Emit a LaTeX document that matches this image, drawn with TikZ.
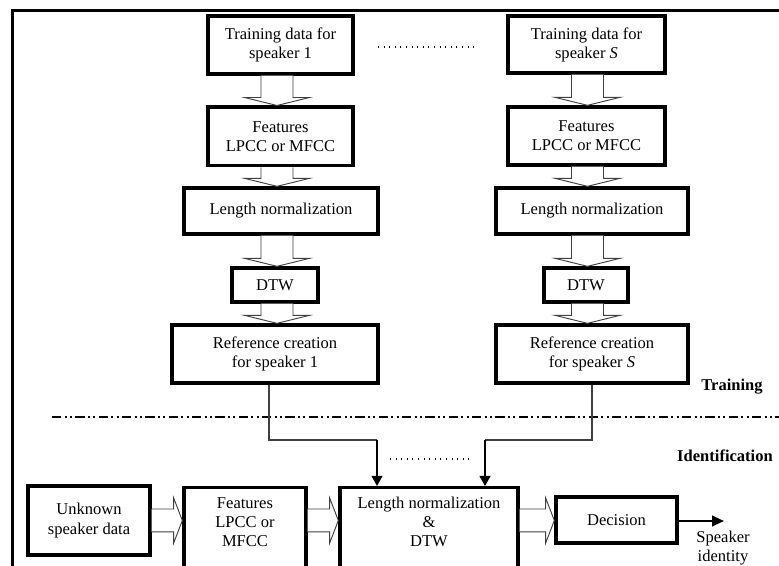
\documentclass[tikz,border=0pt]{standalone}
\usepackage{fontspec}
\setmainfont{Liberation Serif}
\usetikzlibrary{arrows.meta,calc}
\newcommand\hdown[3]{\draw[hollow] let \p1=(#1.south), \p2=(#2.north) in
 ({#3*0.75pt-12pt},\y1) -- ({#3*0.75pt-12pt},{\y2+6pt}) -- ({#3*0.75pt-24.4pt},{\y2+6pt}) -- ({#3*0.75pt},\y2)
 -- ({#3*0.75pt+24.4pt},{\y2+6pt}) -- ({#3*0.75pt+12pt},{\y2+6pt}) -- ({#3*0.75pt+12pt},\y1);}
\newcommand\hright[3]{\draw[hollow] let \p1=(#1.east), \p2=(#2.west) in
 (\x1,{-#3*0.75pt+8.6pt}) -- ({\x2-6.5pt},{-#3*0.75pt+8.6pt}) -- ({\x2-6.5pt},{-#3*0.75pt+16.9pt}) -- (\x2,{-#3*0.75pt})
 -- ({\x2-6.5pt},{-#3*0.75pt-16.9pt}) -- ({\x2-6.5pt},{-#3*0.75pt-8.6pt}) -- (\x1,{-#3*0.75pt-8.6pt});}
\begin{document}
\begin{tikzpicture}[x=0.75pt,y=-0.75pt,
  font=\fontsize{12.4}{14.3}\selectfont,
  box/.style={draw, line width=2.5pt, rectangle, align=center, inner sep=2pt},
  txt/.style={align=center, inner sep=1pt},
  hollow/.style={draw=black!75, line width=0.7pt, fill=white, line join=miter},
  frame/.style={line width=2.4pt},
  fbline/.style={draw=black!75, line width=0.9pt},
  blk/.style={line width=1.5pt, -{Triangle[length=7.5pt,width=8pt]}},
  dotline/.style={line width=0.9pt, dash pattern=on 0.8pt off 3.4pt},
  sep/.style={line width=1.5pt, dash pattern=on 7pt off 2.5pt on 1.5pt off 2.5pt on 1.5pt off 2.5pt}]
\useasboundingbox (0,0) rectangle (779,566);
% outer frame
\coordinate (fr1) at (12.5,600);
\coordinate (fr2) at (800,10.5);
\draw[frame] (fr1) |- (fr2);
% training column 1
\node[box, minimum width=108.75pt, minimum height=43.5pt] (t1) at (280.5,45) {Training data for\\speaker 1};
\node[box, minimum width=108.75pt, minimum height=44pt] (f1) at (280.5,136.5) {Features\\LPCC or MFCC};
\node[box, minimum width=145.5pt, minimum height=34.5pt] (l1) at (281,211) {Length normalization};
\node[box, minimum width=64.5pt, minimum height=25.5pt] (d1) at (275,285) {DTW};
\node[box, minimum width=154.5pt, minimum height=43.5pt] (r1) at (275,354) {Reference creation\\for speaker 1};
% training column S
\node[box, minimum width=117.75pt, minimum height=42.75pt] (tS) at (586.5,44.5) {Training data for\\speaker \textit{S}};
\node[box, minimum width=117.75pt, minimum height=43.5pt] (fS) at (586.5,136) {Features\\LPCC or MFCC};
\node[box, minimum width=144pt, minimum height=34.5pt] (lS) at (592,211) {Length normalization};
\node[box, minimum width=63pt, minimum height=25.5pt] (dS) at (586,285) {DTW};
\node[box, minimum width=144pt, minimum height=43.5pt] (rS) at (592,354) {Reference creation\\for speaker \textit{S}};
% hollow arrows
\hdown{t1}{f1}{277}
\hdown{f1}{l1}{277}
\hdown{l1}{d1}{277}
\hdown{d1}{r1}{277}
\hdown{tS}{fS}{587.5}
\hdown{fS}{lS}{587.5}
\hdown{lS}{dS}{587.5}
\hdown{dS}{rS}{587.5}
% dotted between columns
\coordinate (dA) at (378,47);
\coordinate (dB) at (478,47);
\draw[dotline] (dA) -- (dB);
% separator
\coordinate (sA) at (52,417);
\coordinate (sB) at (790,417);
\draw[sep] (sA) -- (sB);
\node[font=\fontsize{12.4}{14.3}\selectfont\bfseries] (trn) at (732,387) {Training};
\node[font=\fontsize{12.4}{14.3}\selectfont\bfseries] (idn) at (725,456) {Identification};
% identification row
\node[box, minimum width=91.5pt, minimum height=51.75pt] (u) at (89,520.5) {Unknown\\speaker data};
\node[box, minimum width=91.5pt, minimum height=100pt, anchor=north] (fb) at (245,486) {};
\node[txt] (fbt) at (245,522) {Features\\LPCC or\\MFCC};
\node[box, minimum width=133.5pt, minimum height=100pt, anchor=north] (lb) at (429,486) {};
\node[txt] (lbt) at (429,522) {Length normalization\\\&\\DTW};
\node[box, minimum width=90.75pt, minimum height=34.5pt] (dec) at (616.5,520) {Decision};
\hright{u}{fb}{520.5}
\hright{fb}{lb}{520.5}
\hright{lb}{dec}{520.5}
\coordinate (spkend) at (724,521);
\draw[line width=1.5pt, -{Triangle[length=9pt,width=8pt]}] (dec.east |- spkend) -- (spkend);
\node[txt] (spk) at (723,548.5) {Speaker\\identity};
% references into identification
\coordinate (c1) at (377,440);
\coordinate (cS) at (485,440);
\draw[fbline] ([xshift=-4.5pt]r1.south) |- (c1);
\draw[blk] (c1) -- (c1 |- lb.north);
\draw[fbline] (rS.south) |- (cS);
\draw[blk] (cS) -- (cS |- lb.north);
\coordinate (eA) at (390,459);
\coordinate (eB) at (469,459);
\draw[dotline] (eA) -- (eB);
\end{tikzpicture}
\end{document}
